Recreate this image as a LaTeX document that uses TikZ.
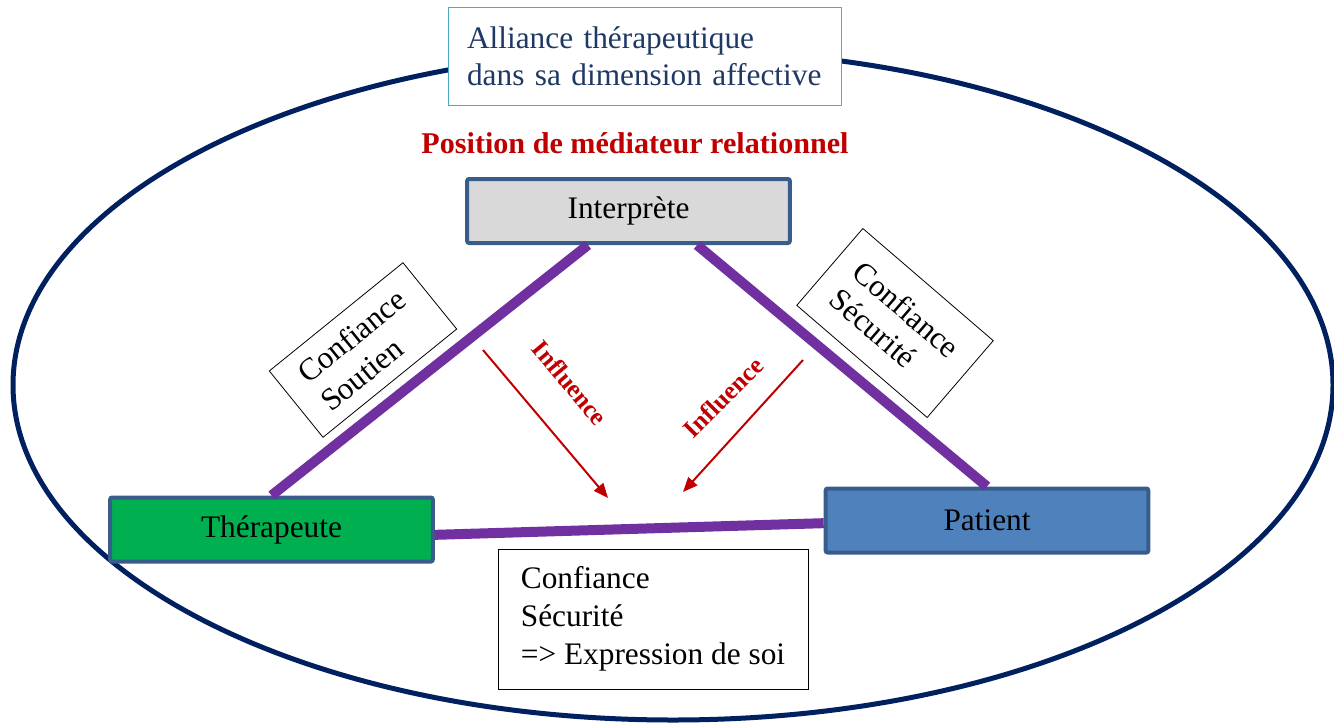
\documentclass[tikz,border=0pt]{standalone}
\usepackage{fontspec}
\setmainfont{Liberation Serif}
\usetikzlibrary{arrows.meta}

\begin{document}
\begin{tikzpicture}[x=0.75pt,y=0.75pt,yscale=-1,xscale=1,
	roleBox/.style={draw={rgb, 255:red, 56; green, 93; blue, 138 },line width=3pt,rounded corners=1.5pt,minimum width=242pt,minimum height=48pt,font=\fontsize{23.5}{28}\selectfont},
	link/.style={draw={rgb, 255:red, 112; green, 48; blue, 160 },line width=7.5pt},
	tagBox/.style={draw,fill=white,line width=0.6pt,align=left,minimum width=129pt,font=\fontsize{23.5}{27}\selectfont},
	inflArrow/.style={draw={rgb, 255:red, 192; green, 0; blue, 0 },line width=1.5pt,-{Triangle[length=11pt,width=9pt]}},
	inflText/.style={text={rgb, 255:red, 192; green, 0; blue, 0 },font=\fontsize{19}{22}\selectfont\bfseries}
	]
	\useasboundingbox (0,0) rectangle (1334,725);
	
	%Shape: Ellipse
	\draw [color={rgb, 255:red, 0; green, 32; blue, 96 },line width=3.75pt] (673,385) ellipse [x radius=660, y radius=335];
	
	% Text Node
	\node (alliance) [draw={rgb, 255:red, 75; green, 172; blue, 198 },line width=0.9pt,fill=white,align=left,text width=267pt,inner xsep=14pt,minimum height=73pt,text={rgb, 255:red, 31; green, 56; blue, 100 },font=\fontsize{23.5}{28}\selectfont] at (645,56.5) {Alliance thérapeutique\\dans sa dimension affective};
	% Text Node
	\node (position) [text={rgb, 255:red, 192; green, 0; blue, 0 },font=\fontsize{22.6}{26}\selectfont\bfseries] at (635,143) {Position de médiateur relationnel};
	
	%Shape: Rectangle
	\node (interp) [roleBox,fill={rgb, 255:red, 217; green, 217; blue, 217 }] at (628.5,211) {Interprète};
	\node (therap) [roleBox,fill={rgb, 255:red, 0; green, 176; blue, 80 }] at (271.5,529.5) {Thérapeute};
	\node (patient) [roleBox,fill={rgb, 255:red, 79; green, 129; blue, 189 }] at (987,520.5) {Patient};
	
	%Straight Lines
	\draw [link] ([xshift=-30.4pt]interp.south) -- (therap.north);
	\draw [link] ([xshift=51.4pt]interp.south) -- (patient.north);
	\draw [link] ([yshift=4pt]therap.east) -- ([yshift=2pt]patient.west);
	
	% Text Node
	\node (soutien) [tagBox,minimum height=64pt,rotate=39] at (363,350) {Confiance\\Soutien};
	% Text Node
	\node (securite) [tagBox,minimum height=76pt,rotate=-40.7] at (895,323) {Confiance\\Sécurité};
	
	%Straight Lines
	\coordinate (inflA1) at (483,350);
	\coordinate (inflA2) at (608,498);
	\coordinate (inflB1) at (803,360);
	\coordinate (inflB2) at (683,492);
	\draw [inflArrow] (inflA1) -- (inflA2);
	\draw [inflArrow] (inflB1) -- (inflB2);
	
	% Text Node
	\node (inflLeft) [inflText,rotate=-50] at (570,383) {Influence};
	% Text Node
	\node (inflRight) [inflText,rotate=45] at (723,397) {Influence};
	
	% Text Node
	\node (expression) [draw,fill=white,line width=0.6pt,align=left,minimum width=232.5pt,minimum height=105pt,font=\fontsize{23.5}{28.5}\selectfont] at (653,619) {Confiance\\Sécurité\\=> Expression de soi};
	
\end{tikzpicture}
\end{document}
